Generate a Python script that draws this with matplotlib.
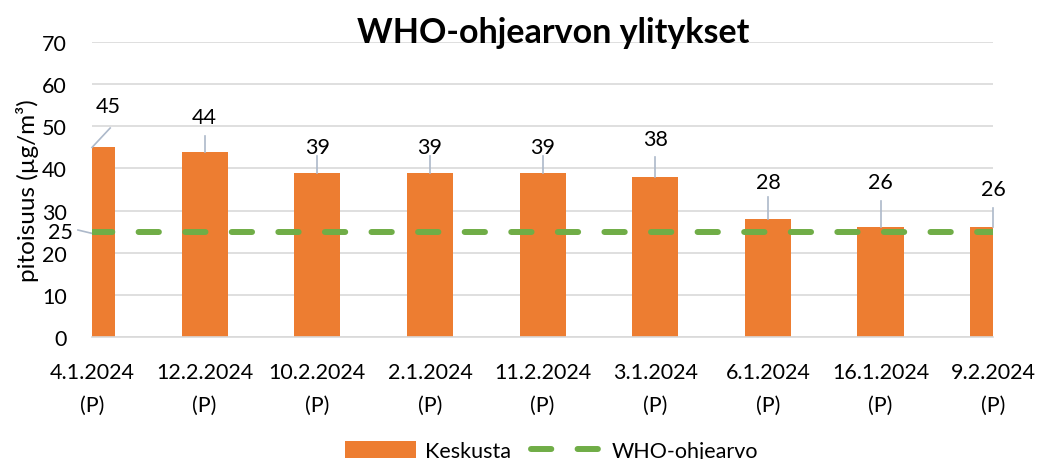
import matplotlib
matplotlib.use('Agg')
import matplotlib.pyplot as plt
from matplotlib.patches import Patch
from matplotlib.lines import Line2D

plt.rcParams['font.family'] = ['Lato', 'DejaVu Sans']

# data
dates = ['4.1.2024\n(P)', '12.2.2024\n(P)', '10.2.2024\n(P)', '2.1.2024\n(P)', '11.2.2024\n(P)',
         '3.1.2024\n(P)', '6.1.2024\n(P)', '16.1.2024\n(P)', '9.2.2024\n(P)']
keskusta = [45, 44, 39, 39, 39, 38, 28, 26, 26]
who_limit = [25] * len(dates)

# where the data labels sit (x offset, y of text, top of leader line)
lab_dx = [0.14, 0, 0, 0, 0, 0, 0, 0, 0]
lab_y = [54.9, 52.3, 45.1, 45.1, 45.1, 47.0, 36.8, 36.8, 35.1]
lead_top = [49.6, 47.6, 43.0, 43.0, 43.0, 42.7, 33.2, 32.3, 30.6]

orange = '#ED7D31'
green = '#70AD47'
grid_c = '#D9D9D9'
lead_c = '#ADB9CA'
fs = 15.5

fig = plt.figure(figsize=(10.4, 4.6), dpi=100)
ax = fig.add_axes([0.0885, 0.265, 0.8665, 0.6415])

x = list(range(len(dates)))
ax.bar(x, keskusta, width=0.41, color=orange, zorder=2)
ax.plot(x, who_limit, color=green, lw=4.3, dashes=[3.4, 4.4],
        solid_capstyle='round', dash_capstyle='round', zorder=3)

ax.set_xlim(0, len(dates) - 1)
ax.set_ylim(0, 70)
ax.set_yticks([0, 10, 20, 30, 40, 50, 60, 70])
ax.set_xticks(x)
ax.set_xticklabels(dates, fontsize=fs, linespacing=1.8)
ax.tick_params(axis='both', length=0, labelsize=fs)
ax.tick_params(axis='y', pad=18)
ax.tick_params(axis='x', pad=18)
ax.grid(axis='y', color=grid_c, lw=1.2, zorder=0)
for s in ['top', 'right', 'left']:
    ax.spines[s].set_visible(False)
ax.spines['bottom'].set_color(grid_c)
ax.spines['bottom'].set_linewidth(1.2)

# data labels with leader lines
for i, v in enumerate(keskusta):
    ax.text(i + lab_dx[i], lab_y[i], str(v), ha='center', va='center', fontsize=fs, clip_on=False)
    ax.plot([i, i + lab_dx[i] * 1.15], [v, lead_top[i]], color=lead_c, lw=1.2, clip_on=False, zorder=4)

# label of the WHO line, placed left of the axis
ax.text(-0.28, 25, '25', ha='center', va='center', fontsize=fs, clip_on=False)
ax.plot([-0.125, 0], [25.4, 24.6], color=lead_c, lw=1.2, clip_on=False)

ax.set_ylabel('pitoisuus (µg/m³)', fontsize=17.5, labelpad=2)
fig.text(0.532, 0.928, 'WHO-ohjearvon ylitykset', ha='center', va='center',
         fontsize=24.5, fontweight='bold')

handles = [Patch(facecolor=orange, edgecolor='none'),
           Line2D([0], [0], color=green, lw=4.3, dashes=[3.4, 4.4], dash_capstyle='round')]
fig.legend(handles, ['Keskusta', 'WHO-ohjearvo'], loc='center', bbox_to_anchor=(0.53, 0.018),
           ncol=2, frameon=False, fontsize=fs, handlelength=3.3, handleheight=0.9,
           columnspacing=0.9, handletextpad=0.45)

fig.savefig('out.png', dpi=100)
